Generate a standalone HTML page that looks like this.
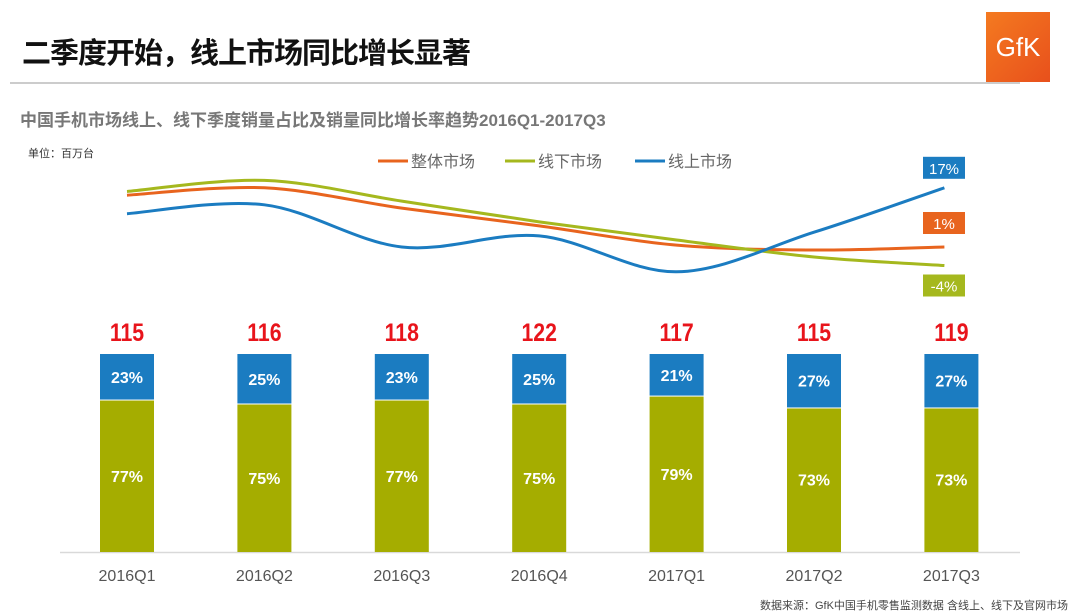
<!DOCTYPE html>
<html><head><meta charset="utf-8"><style>
body{margin:0;width:1080px;height:614px;background:#fff;overflow:hidden;font-family:"Liberation Sans","Noto Sans CJK SC",sans-serif;position:relative}
.abs{position:absolute}
</style></head><body>
<div class="abs" style="left:22px;top:30px;font-size:29px;font-weight:bold;color:#111;letter-spacing:-1px">二季度开始，线上市场同比增长显著</div>
<div class="abs" style="left:10px;top:82px;width:1010px;height:2px;background:#ccc"></div>
<div class="abs" style="left:986px;top:12px;width:64px;height:70px;background:linear-gradient(135deg,#f47a20,#e8501c);color:#fff;font-size:26px;line-height:70px;text-align:center">GfK</div>
<div class="abs" style="left:20px;top:106px;font-size:17px;font-weight:bold;color:#777">中国手机市场线上、线下季度销量占比及销量同比增长率趋势2016Q1-2017Q3</div>
<div class="abs" style="left:28px;top:145px;font-size:11px;color:#333">单位：百万台</div>
<svg id="chart" class="abs" style="left:0;top:0" width="1080" height="614"></svg>
<div class="abs" style="right:12px;top:597px;font-size:11px;color:#444">数据来源：GfK中国手机零售监测数据 含线上、线下及官网市场</div>
<script>
const categories=["2016Q1","2016Q2","2016Q3","2016Q4","2017Q1","2017Q2","2017Q3"];
const totals=[115,116,118,122,117,115,119];
const onlineShare=[23,25,23,25,21,27,27];
const offlineShare=[77,75,77,75,79,73,73];
const growthTotal=[15,17,11.5,6.7,1.5,0.2,1];
const growthOffline=[16,19,13.4,7.8,2.9,-1.7,-4];
const growthOnline=[10,12.4,1,4,-5.7,5,17];
const NS="http://www.w3.org/2000/svg";
const svg=document.getElementById('chart');
function mk(t,a,p){const e=document.createElementNS(NS,t);for(const k in a)e.setAttribute(k,a[k]);(p||svg).appendChild(e);return e;}
const x=i=>127+i*137.4;
const barTop=354,barBot=552,barW=54;
const yBar=p=>barTop+(barBot-barTop)*p/100;
const yG=v=>250.7-3.7*v;
let ax=mk('line',{x1:60,x2:1020,y1:552.5,y2:552.5,stroke:'#d9d9d9','stroke-width':1.5});

categories.forEach((c,i)=>{
 const cx=x(i);
 let b=mk('rect',{x:cx-barW/2,y:barTop,width:barW,height:yBar(onlineShare[i])-barTop,fill:'#1b7cc1'});
 
 let g=mk('rect',{x:cx-barW/2,y:yBar(onlineShare[i])+1,width:barW,height:barBot-yBar(onlineShare[i])-1,fill:'#a5ad00'});
 
 let t1=mk('text',{x:cx,y:(barTop+yBar(onlineShare[i]))/2+6,'text-anchor':'middle',fill:'#fff','font-size':16,'font-weight':'bold'});t1.textContent=onlineShare[i]+'%';
 
 let t2=mk('text',{x:cx,y:(yBar(onlineShare[i])+barBot)/2+6,'text-anchor':'middle',fill:'#fff','font-size':16,'font-weight':'bold'});t2.textContent=offlineShare[i]+'%';
 
 let tt=mk('text',{x:cx,y:341,'text-anchor':'middle',fill:'#e8141b','font-size':25,'font-weight':'bold',transform:`translate(${cx},0) scale(0.85,1) translate(${-cx},0)`});tt.textContent=totals[i];
 
 let xl=mk('text',{x:cx,y:581,'text-anchor':'middle',fill:'#555','font-size':16});xl.textContent=c;
 
});
function path(vals){
 const p=vals.map((v,i)=>[i==vals.length-1?x(i)-7:x(i),yG(v)]);
 let d=`M${p[0][0]},${p[0][1]}`;
 for(let i=0;i<p.length-1;i++){const p0=p[i-1]||p[i],p1=p[i],p2=p[i+1],p3=p[i+2]||p2;
  d+=` C${p1[0]+(p2[0]-p0[0])/6},${p1[1]+(p2[1]-p0[1])/6} ${p2[0]-(p3[0]-p1[0])/6},${p2[1]-(p3[1]-p1[1])/6} ${p2[0]},${p2[1]}`;}
 return d;}
const series=[[growthTotal,'#e8641e','line-total'],[growthOffline,'#a5b81e','line-offline'],[growthOnline,'#1b7cc1','line-online']];
series.forEach(([v,c,n])=>{let l=mk('path',{d:path(v),fill:'none',stroke:c,'stroke-width':3});});
const endBoxes=[[growthOnline,'#1b7cc1',-20],[growthTotal,'#e8641e',-24],[growthOffline,'#a5b81e',20]];
endBoxes.forEach(([v,c,off])=>{const last=v[v.length-1];const cy=yG(last)+off;
 let r=mk('rect',{x:923,y:cy-11,width:42,height:22,fill:c});
 let t=mk('text',{x:944,y:cy+6,'text-anchor':'middle',fill:'#fff','font-size':15});t.textContent=Math.round(last)+'%';});
const legend=[['整体市场','#e8641e',378],['线下市场','#a5b81e',505],['线上市场','#1b7cc1',635]];
legend.forEach(([n,c,lx])=>{let g=mk('g',{});
 mk('line',{x1:lx,x2:lx+30,y1:161,y2:161,stroke:c,'stroke-width':3},g);
 let t=mk('text',{x:lx+33,y:167,fill:'#666','font-size':16},g);t.textContent=n;});
</script>
</body></html>
